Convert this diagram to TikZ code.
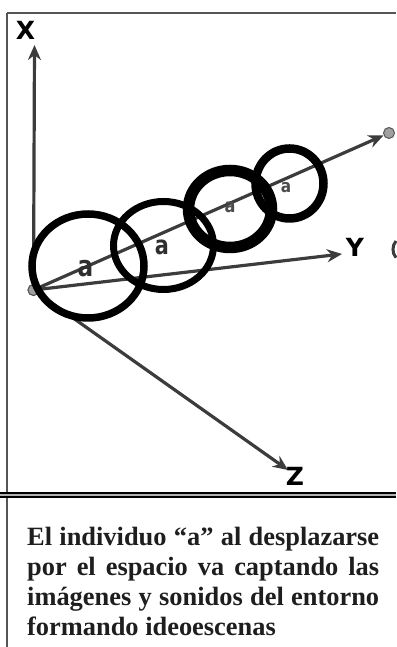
\documentclass[tikz,border=0pt]{standalone}
\usepackage{fontspec}
\setmainfont{Liberation Serif}
\setsansfont{DejaVu Sans}
\usetikzlibrary{arrows.meta}
\definecolor{axgray}{HTML}{3C3C3C}
\definecolor{dotfill}{HTML}{A0A0A0}
\definecolor{framegray}{HTML}{555555}
\definecolor{txt}{HTML}{1E1E1E}
\begin{document}
\begin{tikzpicture}[x=1pt,y=1pt,
  axis/.style={draw=axgray, line width=3.2pt, -{Stealth[length=15pt,width=13pt]}},
  dot/.style={circle, draw=framegray, fill=dotfill, line width=1pt, minimum size=11pt, inner sep=0pt},
  ring/.style={draw=black},
  axlabel/.style={font=\sffamily\bfseries\fontsize{25}{25}\selectfont, text=black, inner sep=0pt},
  alabel/.style={text=#1, inner sep=0pt}]
\useasboundingbox (0,0) rectangle (396,647);
% frame
\draw[framegray, line width=2pt] (7,634) -- (396,634);
\draw[framegray, line width=2pt] (7,634) -- (7,0);
\fill[gray!60] (0,150) rectangle (396,154);
\draw[black, line width=1.2pt] (0,150) -- (396,150);
\draw[black, line width=1.2pt] (0,154) -- (396,154);
% right-edge fragment
\draw[axgray, line width=3pt] (396,406) arc[start angle=140, end angle=220, radius=13];
% nodes
\node[dot] (O) at (33.5,357) {};
\node[dot] (E) at (389,514) {};
\coordinate (Xtip) at (34.5,602);
\coordinate (Ytip) at (342,393);
\coordinate (Ztip) at (288,177);
% axes
\draw[axis] (O) -- (Xtip);
\draw[axis] (O) -- (Ytip);
\draw[axis] (O) -- (Ztip);
\draw[axis] (O) -- (E);
\node[dot] at (O) {};
% rings
\draw[ring, line width=7.5pt] (88,381) ellipse [x radius=56, y radius=52];
\draw[ring, line width=7pt] (163.5,401.5) ellipse [x radius=50, y radius=44];
\draw[ring, line width=11.5pt] (230,438) ellipse [x radius=41.5, y radius=38.5];
\draw[ring, line width=8.5pt] (289.5,463.5) ellipse [x radius=34, y radius=35];
% a labels
\node[alabel=black!82, xscale=0.8, font=\sffamily\bfseries\fontsize{29}{29}\selectfont] (a1) at (85.5,378) {a};
\node[alabel=black!82, xscale=0.8, font=\sffamily\bfseries\fontsize{26}{26}\selectfont] (a2) at (162,400) {a};
\node[alabel=black!70, xscale=0.85, font=\sffamily\bfseries\fontsize{19}{19}\selectfont] (a3) at (230,440) {a};
\node[alabel=black!70, xscale=0.85, font=\sffamily\bfseries\fontsize{18}{18}\selectfont] (a4) at (286,459) {a};
% axis labels
\node[axlabel] (X) at (25.5,617) {X};
\node[axlabel] (Y) at (355,400) {Y};
\node[axlabel] (Z) at (295,171) {Z};
% caption
\node[anchor=base west, inner sep=0pt, text=txt] (cap) at (27,101)
  {\parbox[t]{352pt}{\fontsize{26.4}{30}\selectfont\bfseries\hyphenpenalty=10000\tolerance=9999\emergencystretch=20pt
  El individuo “a” al desplazarse\linebreak por el espacio va captando las\linebreak im\'agenes y sonidos del entorno\linebreak formando ideoescenas}};
\end{tikzpicture}
\end{document}
